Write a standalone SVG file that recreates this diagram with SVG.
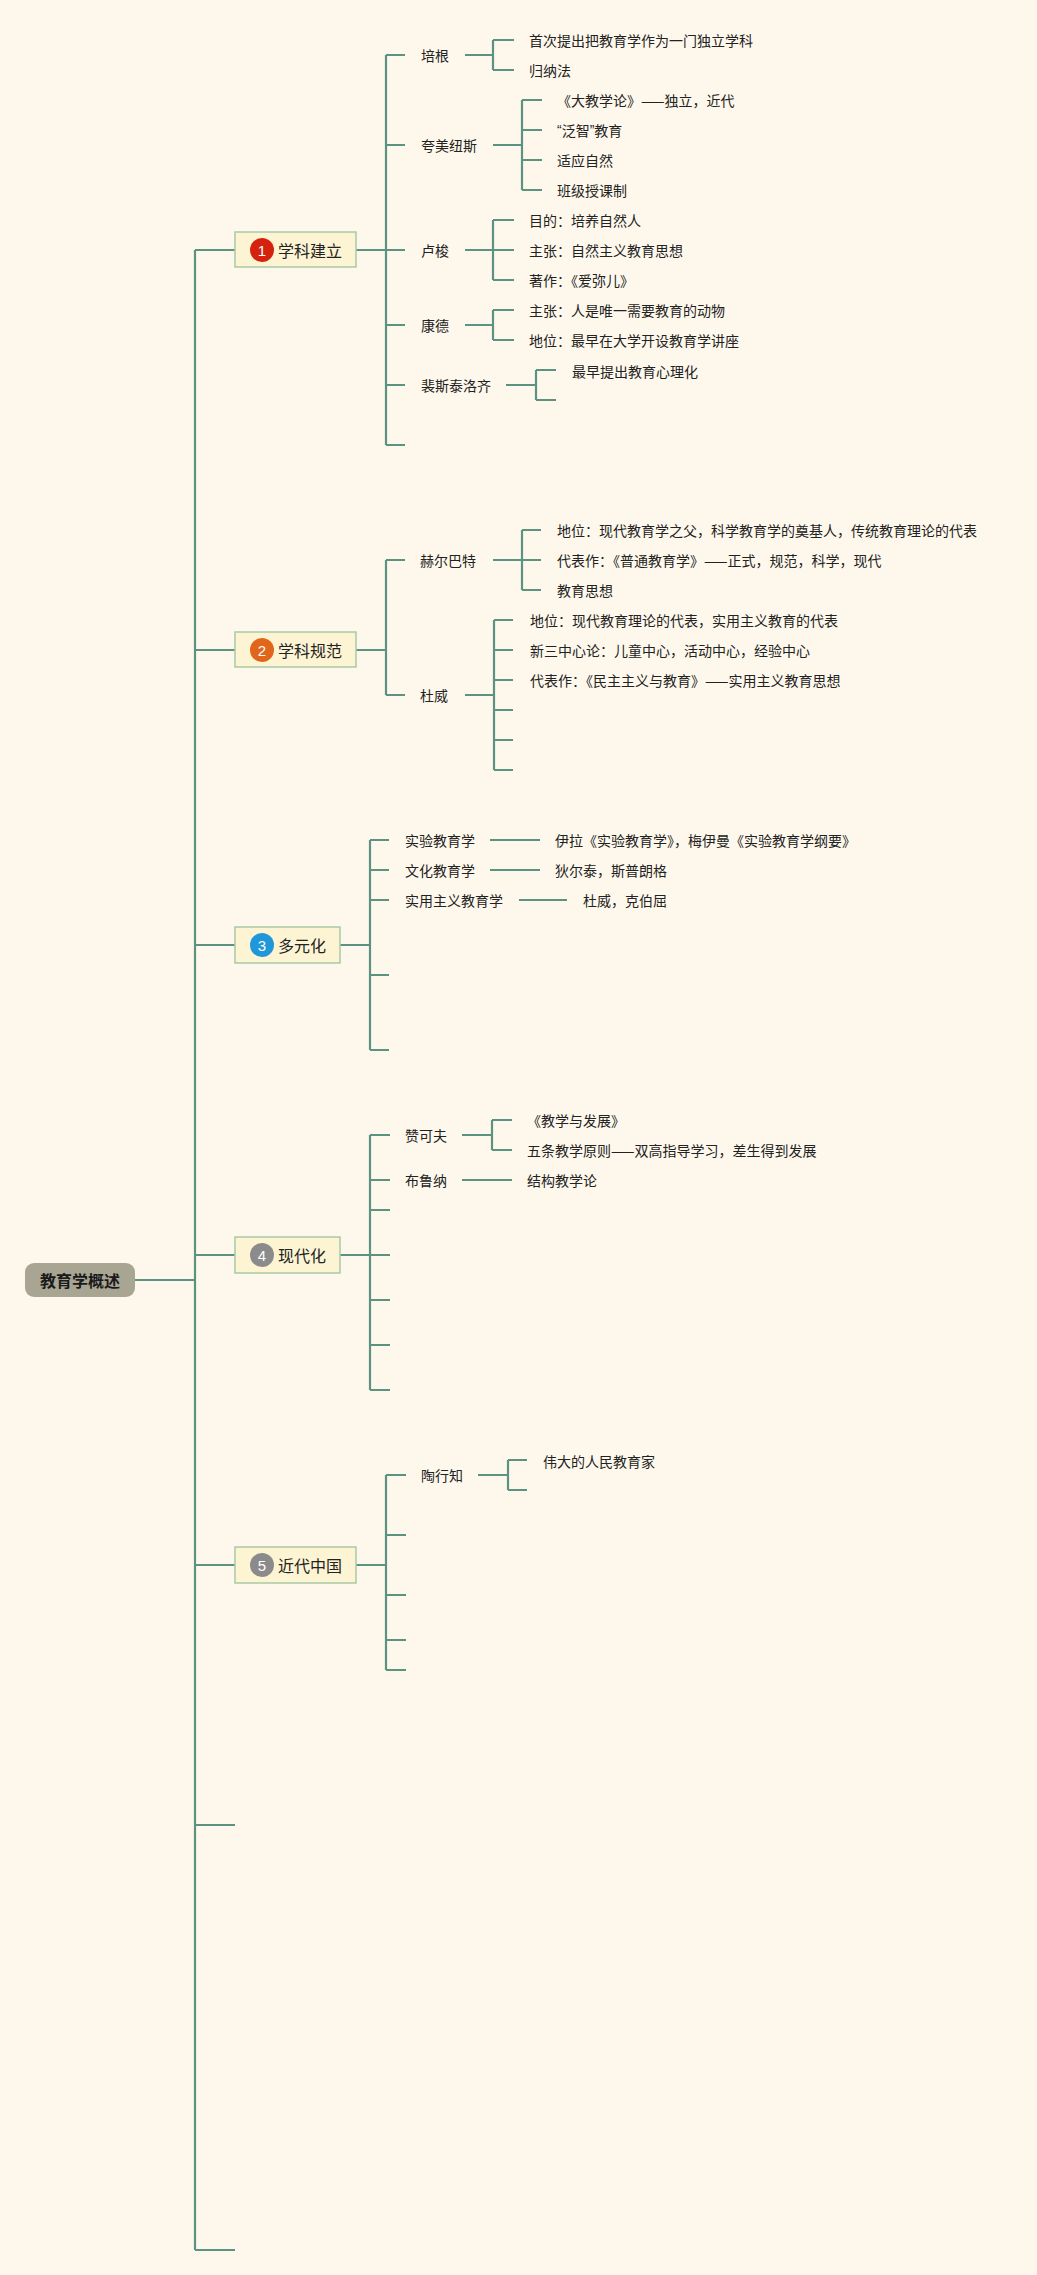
<svg xmlns="http://www.w3.org/2000/svg" width="1037" height="2275" viewBox="0 0 1037 2275">
<style>
text{font-family:"Noto Sans CJK SC","Noto Sans",sans-serif;fill:#222;dominant-baseline:central}
.t{font-size:14px}
.n{font-size:16px}
.r{font-size:16px;font-weight:bold;text-anchor:middle;fill:#1a1a1a}
.num{font-size:15px;fill:#fff;text-anchor:middle;font-family:"Liberation Sans",sans-serif}
.q{font-family:"Liberation Sans",sans-serif}
.box{fill:#fdf4d3;stroke:#a9c9a6;stroke-width:1.5}
#connectors path{fill:none;stroke:#5c9282;stroke-width:2.2}
</style>
<rect width="1037" height="2275" fill="#fef8ec"/>
<g id="connectors">
<path d="M135 1280H195M195 250V2250M195 250H235M195 650H235M195 945H235M195 1255H235M195 1565H235M195 1825H235M195 2250H235"/>
<path d="M356 250H405M386 55V445M386 55H405M386 145H405M386 325H405M386 385H405M386 445H405"/>
<path d="M465 55H493M493 40V70M493 40H514M493 70H514"/>
<path d="M493 145H522M522 100V190M522 100H542M522 130H542M522 160H542M522 190H542"/>
<path d="M465 250H493M493 220V280M493 220H514M493 250H514M493 280H514"/>
<path d="M465 325H493M493 310V340M493 310H514M493 340H514"/>
<path d="M506 385H536M536 370V400M536 370H556M536 400H556"/>
<path d="M356 650H386M386 560V695M386 560H405M386 695H405"/>
<path d="M493 560H522M522 530V590M522 530H541M522 560H541M522 590H541"/>
<path d="M465 695H494M494 620V770M494 620H513M494 650H513M494 680H513M494 710H513M494 740H513M494 770H513"/>
<path d="M340 945H370M370 840V1050M370 840H389M370 870H389M370 900H389M370 975H389M370 1050H389"/>
<path d="M490 840H540M490 870H540M519 900H567"/>
<path d="M340 1255H390M370 1135V1390M370 1135H390M370 1180H390M370 1210H390M370 1300H390M370 1345H390M370 1390H390"/>
<path d="M462 1135H492M492 1120V1150M492 1120H512M492 1150H512M462 1180H512"/>
<path d="M356 1565H386M386 1475V1670M386 1475H406M386 1535H406M386 1595H406M386 1640H406M386 1670H406"/>
<path d="M478 1475H508M508 1460V1490M508 1460H527M508 1490H527"/>
</g>
<g id="root">
<rect x="25" y="1263" width="110" height="34" rx="9" fill="#a8a593"/>
<text class="r" x="80" y="1280">教育学概述</text>
</g>
<g id="node1">
<rect class="box" x="235" y="232" width="121" height="35"/>
<circle cx="262" cy="250" r="12" fill="#d4220f"/>
<text class="num" x="262" y="250">1</text>
<text class="n" x="278" y="250">学科建立</text>
</g>
<g id="node1-children">
<text class="t" x="421" y="55">培根</text>
<text class="t" x="529" y="40">首次提出把教育学作为一门独立学科</text>
<text class="t" x="529" y="70">归纳法</text>
<text class="t" x="421" y="145">夸美纽斯</text>
<text class="t" x="557" y="100">《大教学论》——独立，近代</text>
<text class="t" x="557" y="130"><tspan class="q">“</tspan>泛智<tspan class="q">”</tspan>教育</text>
<text class="t" x="557" y="160">适应自然</text>
<text class="t" x="557" y="190">班级授课制</text>
<text class="t" x="421" y="250">卢梭</text>
<text class="t" x="529" y="220">目的：培养自然人</text>
<text class="t" x="529" y="250">主张：自然主义教育思想</text>
<text class="t" x="529" y="280">著作：《爱弥儿》</text>
<text class="t" x="421" y="325">康德</text>
<text class="t" x="529" y="310">主张：人是唯一需要教育的动物</text>
<text class="t" x="529" y="340">地位：最早在大学开设教育学讲座</text>
<text class="t" x="421" y="385">裴斯泰洛齐</text>
<text class="t" x="572" y="371">最早提出教育心理化</text>
</g>
<g id="node2">
<rect class="box" x="235" y="632" width="121" height="35"/>
<circle cx="262" cy="650" r="12" fill="#e0661c"/>
<text class="num" x="262" y="650">2</text>
<text class="n" x="278" y="650">学科规范</text>
</g>
<g id="node2-children">
<text class="t" x="420" y="560">赫尔巴特</text>
<text class="t" x="557" y="530">地位：现代教育学之父，科学教育学的奠基人，传统教育理论的代表</text>
<text class="t" x="557" y="560">代表作：《普通教育学》——正式，规范，科学，现代</text>
<text class="t" x="557" y="590">教育思想</text>
<text class="t" x="420" y="695">杜威</text>
<text class="t" x="530" y="620">地位：现代教育理论的代表，实用主义教育的代表</text>
<text class="t" x="530" y="650">新三中心论：儿童中心，活动中心，经验中心</text>
<text class="t" x="530" y="680">代表作：《民主主义与教育》——实用主义教育思想</text>
</g>
<g id="node3">
<rect class="box" x="235" y="927" width="105" height="36"/>
<circle cx="262" cy="945" r="12" fill="#1f97d9"/>
<text class="num" x="262" y="945">3</text>
<text class="n" x="278" y="945">多元化</text>
</g>
<g id="node3-children">
<text class="t" x="405" y="840">实验教育学</text>
<text class="t" x="555" y="840">伊拉《实验教育学》，梅伊曼《实验教育学纲要》</text>
<text class="t" x="405" y="870">文化教育学</text>
<text class="t" x="555" y="870">狄尔泰，斯普朗格</text>
<text class="t" x="405" y="900">实用主义教育学</text>
<text class="t" x="583" y="900">杜威，克伯屈</text>
</g>
<g id="node4">
<rect class="box" x="235" y="1237" width="105" height="36"/>
<circle cx="262" cy="1255" r="12" fill="#8b8b8b"/>
<text class="num" x="262" y="1255">4</text>
<text class="n" x="278" y="1255">现代化</text>
</g>
<g id="node4-children">
<text class="t" x="405" y="1135">赞可夫</text>
<text class="t" x="527" y="1120">《教学与发展》</text>
<text class="t" x="527" y="1150">五条教学原则——双高指导学习，差生得到发展</text>
<text class="t" x="405" y="1180">布鲁纳</text>
<text class="t" x="527" y="1180">结构教学论</text>
</g>
<g id="node5">
<rect class="box" x="235" y="1547" width="121" height="36"/>
<circle cx="262" cy="1565" r="12" fill="#8b8b8b"/>
<text class="num" x="262" y="1565">5</text>
<text class="n" x="278" y="1565">近代中国</text>
</g>
<g id="node5-children">
<text class="t" x="421" y="1475">陶行知</text>
<text class="t" x="543" y="1461">伟大的人民教育家</text>
</g>
</svg>
